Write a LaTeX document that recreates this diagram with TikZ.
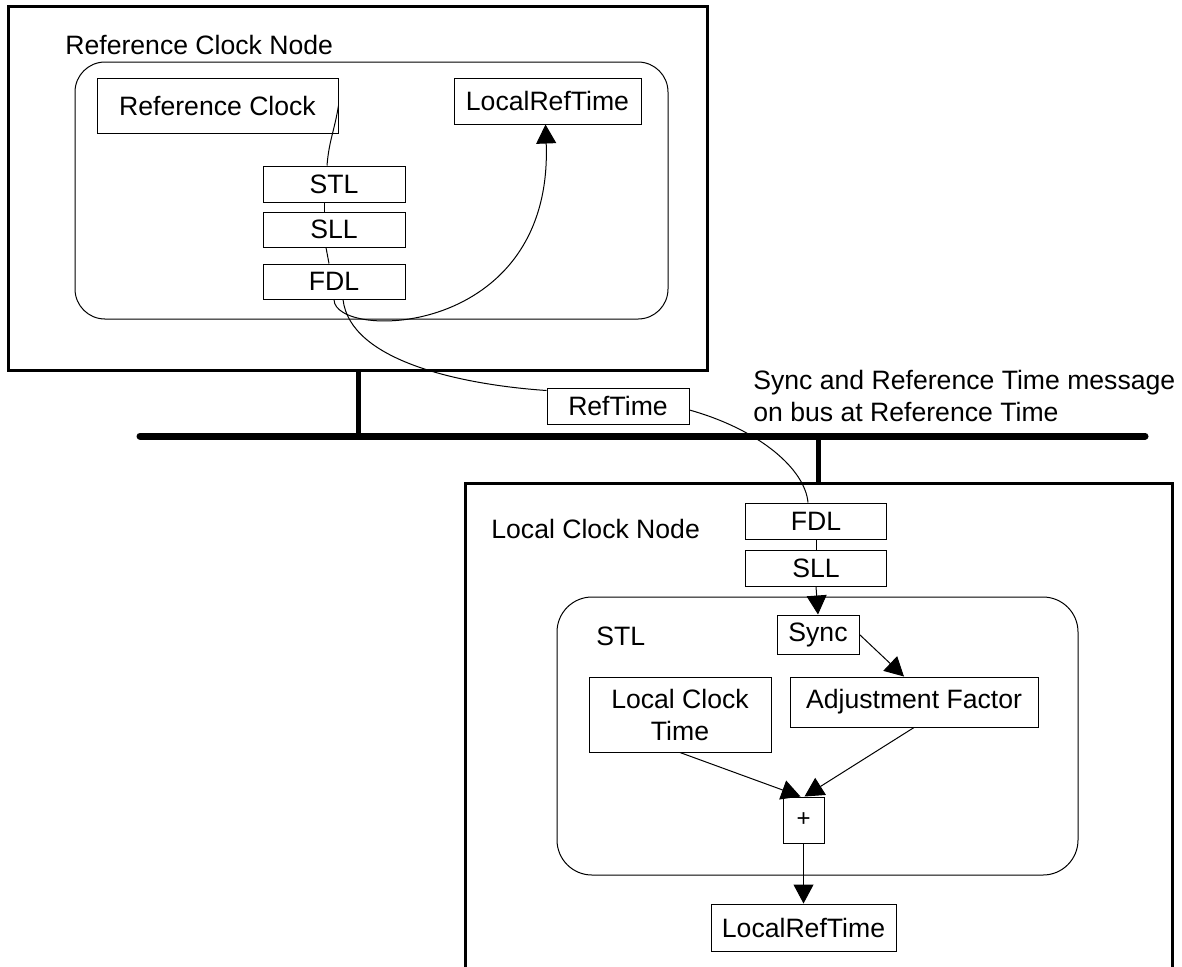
\documentclass[tikz,border=0pt]{standalone}
\usepackage{fontspec}
\setmainfont{Liberation Sans}
\usetikzlibrary{arrows.meta}
\tikzset{
  blk/.style={draw, line width=0.5pt, inner sep=0pt, align=center, font=\fontsize{13.3}{16}\selectfont},
  lbl/.style={inner sep=0pt, anchor=west, font=\fontsize{13.3}{16}\selectfont},
  wire/.style={line width=0.5pt},
  flow/.style={line width=0.5pt, -{Triangle[length=9.5pt,width=10pt]}},
  frame/.style={line width=1.5pt},
  bus/.style={line width=3.5pt, line cap=round},
  tap/.style={line width=2.5pt}
}
\begin{document}
\begin{tikzpicture}[x=0.5pt, y=-0.5pt]
\useasboundingbox (0,0) rectangle (1182,966);
% reference clock node
\draw[frame] (8,6) rectangle (707,370);
\node[lbl] (refnodelbl) at (65,45) {Reference Clock Node};
\draw[wire, rounded corners=15pt] (75,62) rectangle (668,319);
\node[blk, minimum width=120.5pt, minimum height=27.5pt] (refclk) at (217.5,105.5) {Reference Clock};
\node[blk, minimum width=93.5pt, minimum height=23pt] (lrtref) at (547.5,101) {LocalRefTime};
\node[blk, minimum width=71pt, minimum height=18pt] (stlref) at (334,184) {STL};
\node[blk, minimum width=71pt, minimum height=17.5pt] (sllref) at (334,229.5) {SLL};
\node[blk, minimum width=71pt, minimum height=17.5pt] (fdlref) at (334,281.5) {FDL};
% bus
\coordinate (busW) at (140,436);
\coordinate (busE) at (1145,436);
\coordinate (reftap) at (358,370);
\coordinate (loctap) at (818,483);
\draw[bus] (busW) -- (busE);
\draw[tap] (reftap) -- (reftap |- busW);
\draw[tap] (loctap |- busW) -- (loctap);
\node[blk, minimum width=71pt, minimum height=18pt] (reftime) at (618,406) {RefTime};
\node[lbl, align=left] (buslbl) at (753,396) {Sync and Reference Time message\\on bus at Reference Time};
% local clock node
\draw[frame] (465,1000) |- (1172,483) -- (1172,1000);
\node[lbl] (locnodelbl) at (491,529) {Local Clock Node};
\node[blk, minimum width=70.5pt, minimum height=18pt] (fdlloc) at (816,521) {FDL};
\node[blk, minimum width=70.5pt, minimum height=18pt] (sllloc) at (816,568) {SLL};
\draw[wire, rounded corners=17.5pt] (557,597) rectangle (1078,875);
\node[lbl] (stllbl) at (596,636) {STL};
\node[blk, minimum width=41pt, minimum height=19.5pt] (sync) at (818,634.5) {Sync};
\node[blk, minimum width=124pt, minimum height=25pt] (adjf) at (914,702) {Adjustment Factor};
\node[blk, minimum width=91pt, minimum height=37.5pt] (lct) at (680,714.5) {Local Clock\\Time};
\node[blk, minimum width=20.5pt, minimum height=23pt, font=\fontsize{12}{14}\selectfont] (plus) at (803.5,820) {+};
\node[blk, minimum width=92.5pt, minimum height=23.5pt] (lrtloc) at (803.5,927.5) {LocalRefTime};
% connectors
\draw[wire] (refclk.east) .. controls +(-4,25) and +(2,-25) .. ([xshift=-3.5pt]stlref.north);
\draw[wire] ([xshift=-5pt]stlref.south) -- ([xshift=-5pt]sllref.north);
\draw[wire] ([xshift=-4pt]sllref.south) -- ([xshift=-2.5pt]fdlref.north);
\draw[flow] (fdlref.south) .. controls +(0,41) and +(8,215) .. ([xshift=-1pt]lrtref.south);
\draw[wire] ([xshift=4.5pt]fdlref.south) .. controls +(7,61) and +(-87,-6) .. ([yshift=-1.5pt]reftime.north west);
\draw[wire] ([yshift=-2pt]reftime.east) .. controls +(71,20) and +(-3,-33) .. ([xshift=-4pt]fdlloc.north);
\draw[wire] (fdlloc.south) -- (sllloc.north);
\draw[flow] (sllloc.south) -- (sync.north);
\draw[flow] (sync.east) -- ([xshift=-5pt]adjf.north);
\draw[flow] (lct.south) -- ([xshift=-1.5pt]plus.north);
\draw[flow] (adjf.south) -- ([xshift=0.5pt]plus.north);
\draw[flow] (plus.south) -- (lrtloc.north);
\end{tikzpicture}
\end{document}
